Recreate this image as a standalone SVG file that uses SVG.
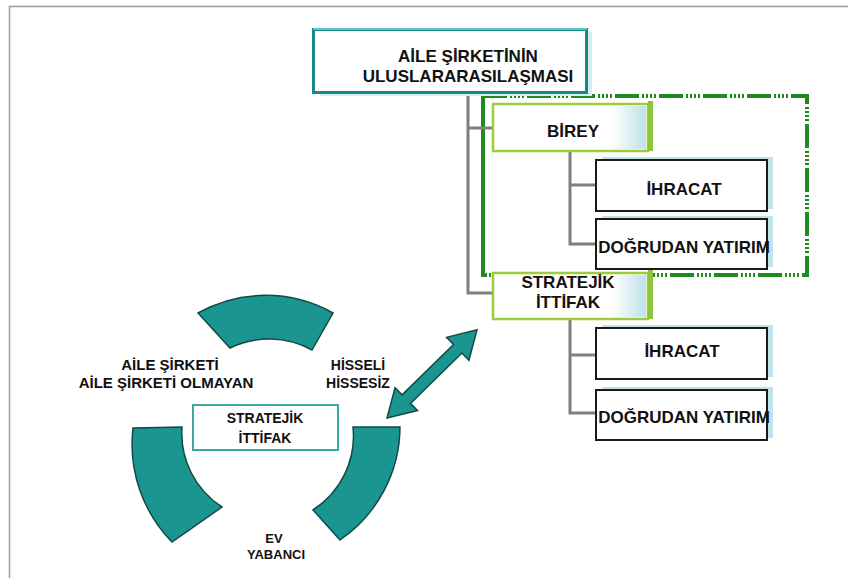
<svg xmlns="http://www.w3.org/2000/svg" width="848" height="578" viewBox="0 0 848 578">
<defs>
<style>
text{font-family:"Liberation Sans",Arial,sans-serif;font-weight:bold;fill:#111;text-anchor:middle}
.t17{font-size:17px}
.t14{font-size:14px}
.t15{font-size:15px}
.t13{font-size:13px}
.child{fill:#fff;stroke:#1a1a1a;stroke-width:2}
.shadow{fill:#c2e2ea}
.mid{fill:#fff;stroke:#9ccc3c;stroke-width:2.5}
.strip{fill:#8cc63f}
.conn{fill:none;stroke:#7f7f7f;stroke-width:3}
.seg{fill:#1b9590;stroke:#0f4a47;stroke-width:1.5}
</style>
<linearGradient id="blue" x1="0" y1="0" x2="1" y2="0">
<stop offset="0" stop-color="#ffffff"/>
<stop offset="1" stop-color="#bfe0e8"/>
</linearGradient>
</defs>
<rect x="0" y="0" width="848" height="578" fill="#fff"/>
<path d="M9.5,578 V6.5 H848" fill="none" stroke="#9a9a9a" stroke-width="1.5"/>

<g id="frame">
<rect x="483" y="96" width="324" height="179" fill="none" stroke="#1f8a1f" stroke-width="4" stroke-dasharray="24 3 2 2 2 2 2 2 2 3"/>
<line x1="483" y1="93" x2="483" y2="277" stroke="#1f8a1f" stroke-width="4"/>
</g>

<g id="connectors">
<path class="conn" d="M468,92 V293 H493 M468,128 H493"/>
<path class="conn" d="M570,152 V244 H596 M570,185 H596"/>
<path class="conn" d="M570,320 V413 H596 M570,355 H596"/>
</g>

<g id="n-root">
<rect x="320" y="32" width="272" height="64" fill="#d6eef0"/>
<rect x="313.5" y="29.5" width="273" height="63" fill="#fff" stroke="#178a86" stroke-width="3"/>
<line x1="313" y1="29" x2="587" y2="29" stroke="#5cc3c0" stroke-width="2"/>
<text class="t17" x="468" y="62">AİLE ŞİRKETİNİN</text>
<text class="t17" x="468" y="82">ULUSLARARASILAŞMASI</text>
</g>

<g id="n-birey">
<rect class="mid" x="493" y="104" width="155" height="47"/>
<rect x="612" y="106" width="34" height="43" fill="url(#blue)"/>
<rect class="strip" x="648" y="101" width="5" height="50"/>
<text class="t17" x="573" y="137">BİREY</text>
</g>

<g id="n-ihracat1">
<rect class="shadow" x="602" y="157" width="171" height="52"/>
<rect class="child" x="596" y="160" width="171" height="51"/>
<text class="t17" x="684" y="195">İHRACAT</text>
</g>

<g id="n-dogrudan1">
<rect class="shadow" x="602" y="216" width="171" height="51"/>
<rect class="child" x="596" y="219" width="171" height="50"/>
<text class="t17" x="684" y="253">DOĞRUDAN YATIRIM</text>
</g>

<g id="n-stratejik">
<rect class="mid" x="493" y="273" width="155" height="46"/>
<rect x="612" y="275" width="34" height="42" fill="url(#blue)"/>
<rect class="strip" x="648" y="270" width="5" height="49"/>
<text class="t17" x="568" y="288">STRATEJİK</text>
<text class="t17" x="568" y="308">İTTİFAK</text>
</g>

<g id="n-ihracat2">
<rect class="shadow" x="602" y="325" width="171" height="52"/>
<rect class="child" x="596" y="328" width="171" height="51"/>
<text class="t17" x="682" y="357">İHRACAT</text>
</g>

<g id="n-dogrudan2">
<rect class="shadow" x="602" y="387" width="171" height="51"/>
<rect class="child" x="596" y="390" width="171" height="50"/>
<text class="t17" x="684" y="423">DOĞRUDAN YATIRIM</text>
</g>

<g id="cycle">
<path class="seg" d="M198,313 A138,138 0 0 1 333,313 L312,350 A90,90 0 0 0 230,348 Z"/>
<path class="seg" d="M133,428 L182,427 A88,88 0 0 0 222,507 L172,542 A140,140 0 0 1 133,428 Z"/>
<path class="seg" d="M353,427 L400,427 A138,138 0 0 1 340,540 L313,510 A88,88 0 0 0 353,427 Z"/>
</g>

<g id="n-center">
<rect x="193" y="405" width="145" height="45" fill="#fff" stroke="#3aa8a4" stroke-width="2"/>
<text class="t14" x="265" y="423">STRATEJİK</text>
<text class="t14" x="265" y="443">İTTİFAK</text>
</g>

<g id="labels">
<text class="t15" x="170" y="370">AİLE ŞİRKETİ</text>
<text class="t15" x="166" y="388">AİLE ŞİRKETİ OLMAYAN</text>
<text class="t14" x="358" y="370">HİSSELİ</text>
<text class="t14" x="358" y="388">HİSSESİZ</text>
<text class="t13" x="274" y="543">EV</text>
<text class="t13" x="276" y="559">YABANCI</text>
</g>

<g id="arrow">
<polygon transform="translate(387,418) rotate(-44.4)" fill="#1b9590" stroke="#0f4a47" stroke-width="1.5" points="0,0 27,-16 27,-6 99,-6 99,-16 126,0 99,16 99,6 27,6 27,16"/>
</g>
</svg>
